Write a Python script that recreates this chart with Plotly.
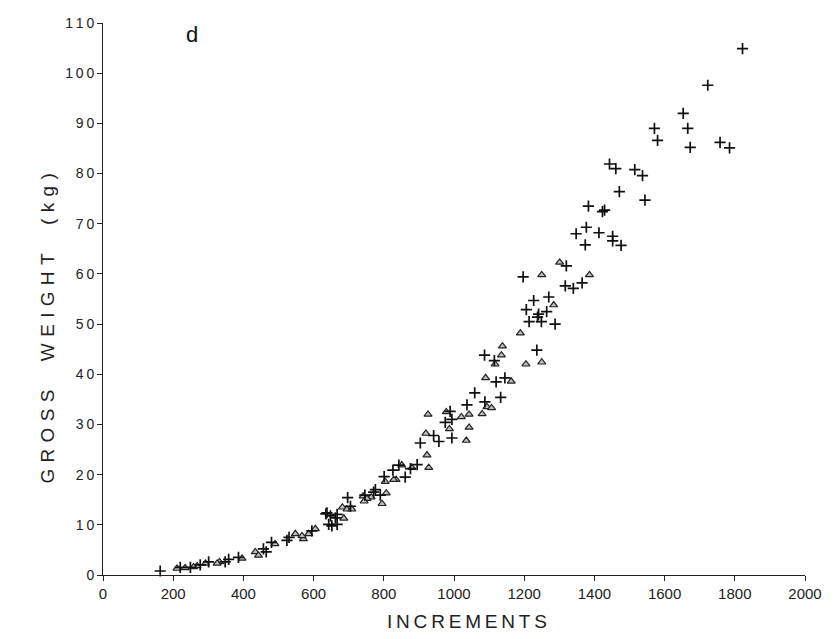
import plotly.graph_objects as go

# Series
cross_x = [1822, 1723, 1653, 1571, 1666, 1580, 1673, 1758, 1785, 1537, 1544,
           1443, 1461, 1515, 1471, 1383, 1423, 1429, 1413, 1377, 1348, 1452, 1452, 1476, 1374,
           1320, 1197, 1317, 1340, 1365, 1227, 1270, 1206, 1264, 1241, 1238, 1214, 1249, 1288, 1236,
           1087, 1115, 1120, 1145, 1133, 1088, 1059, 1037, 989, 975, 994, 942, 957, 994, 904,
           826, 895, 876, 801, 861, 843, 790, 776, 771, 746, 697, 705, 635, 662, 638, 648, 667,
           643, 652, 667, 595, 524, 530, 480, 457, 465, 386, 358, 348, 301, 277, 249, 220, 163]
cross_y = [104.9, 97.6, 92.0, 89.0, 89.0, 86.6, 85.2, 86.2, 85.1, 79.6, 74.7,
           81.9, 81.0, 80.8, 76.4, 73.5, 72.4, 72.7, 68.2, 69.3, 68.0, 67.5, 66.6, 65.7, 65.8,
           61.6, 59.4, 57.6, 57.1, 58.2, 54.7, 55.4, 52.9, 52.5, 52.0, 51.4, 50.5, 50.5, 50.0, 44.8,
           43.8, 42.7, 38.5, 39.3, 35.4, 34.5, 36.3, 33.9, 32.6, 30.4, 31.0, 27.8, 26.6, 27.3, 26.3,
           20.9, 22.0, 21.2, 19.6, 19.5, 21.9, 15.9, 17.0, 16.5, 15.9, 15.4, 13.7, 12.2, 11.4, 12.4, 11.8, 12.1,
           10.1, 9.8, 10.1, 8.8, 6.9, 7.5, 6.5, 5.2, 4.6, 3.5, 3.1, 2.6, 2.6, 2.0, 1.5, 1.5, 0.8]

tri_x = [1301, 1250, 1386, 1284, 1189, 1138, 1135, 1117, 1205, 1250, 1090, 1163, 1094, 1107, 1080,
         926, 978, 1021, 1043, 987, 1043, 920, 1035, 923, 928, 851, 880, 804, 835, 828, 807, 795,
         741, 764, 752, 744, 682, 695, 709, 686, 605, 586, 571, 567, 548, 490, 434, 443, 396,
         332, 325, 292, 268, 258, 234, 211]
tri_y = [62.3, 59.8, 59.8, 53.8, 48.2, 45.6, 43.8, 42.0, 42.0, 42.4, 39.3, 38.6, 33.5, 33.3, 32.1,
         32.0, 32.5, 31.5, 32.0, 29.1, 29.4, 28.2, 26.8, 23.9, 21.4, 21.9, 21.4, 18.6, 19.0, 19.0, 16.3, 14.2,
         15.7, 15.5, 15.2, 14.7, 13.5, 13.1, 13.1, 11.3, 9.2, 8.2, 7.2, 7.8, 8.2, 6.2, 4.6, 3.9, 3.3,
         2.6, 2.3, 2.3, 1.8, 1.6, 1.4, 1.3]

x_ticks = [0, 200, 400, 600, 800, 1000, 1200, 1400, 1600, 1800, 2000]
y_ticks = [0, 10, 20, 30, 40, 50, 60, 70, 80, 90, 100, 110]
y_tick_text = ["\u2009".join(str(v)) for v in y_ticks]

FONT = "Liberation Sans, Arial, sans-serif"
SP = "\u2004"  # letter spacing


def spaced(word, sep):
    return sep.join(word)


x_title = spaced("INCREMENTS", "\u2009")
y_title = (spaced("GROSS", SP) + "\u2003\u2002" + spaced("WEIGHT", SP) + "\u2003\u2002" + spaced("(kg)", SP))

fig = go.Figure()
fig.add_trace(go.Scatter(
    x=tri_x, y=tri_y, mode="markers",
    marker=dict(symbol="triangle-up", size=7, color="#bdbdbd", line=dict(width=1.2, color="#222222")),
    showlegend=False, cliponaxis=False))
fig.add_trace(go.Scatter(
    x=cross_x, y=cross_y, mode="markers",
    marker=dict(symbol="cross-thin", size=8, line=dict(width=1.7, color="#111111")),
    showlegend=False, cliponaxis=False))

fig.update_layout(
    width=825, height=631,
    margin=dict(l=95, r=28, t=7, b=64),
    paper_bgcolor="white", plot_bgcolor="white",
    font=dict(family=FONT, color="#222222"),
    xaxis=dict(range=[0, 2000], tickvals=x_ticks, ticks="outside", ticklen=5, tickwidth=1,
               tickcolor="#222", showline=True, linecolor="#222", linewidth=1, showgrid=False,
               zeroline=False, ticklabeloverflow="allow",
               tickfont=dict(size=15, family=FONT, color="#222")),
    yaxis=dict(range=[0, 110], tickvals=y_ticks, ticktext=y_tick_text, ticks="outside", ticklen=5,
               tickwidth=1, tickcolor="#222", showline=True, linecolor="#222", linewidth=1,
               showgrid=False, zeroline=False, ticklabeloverflow="allow",
               tickfont=dict(size=14, family=FONT, color="#222")),
    annotations=[
        dict(text=x_title, x=1038, xref="x", y=0, yref="paper", yshift=-46, yanchor="middle",
             showarrow=False, font=dict(size=19, family=FONT, color="#222")),
        dict(text=y_title, x=0, xref="paper", xshift=-68, y=49, yref="y",
             textangle=-90, showarrow=False, font=dict(size=19, family=FONT, color="#222")),
        dict(text="d", x=254, y=107.7, xref="x", yref="y", showarrow=False,
             font=dict(size=22, family=FONT, color="#111")),
    ],
)

fig.write_html("out.html")
